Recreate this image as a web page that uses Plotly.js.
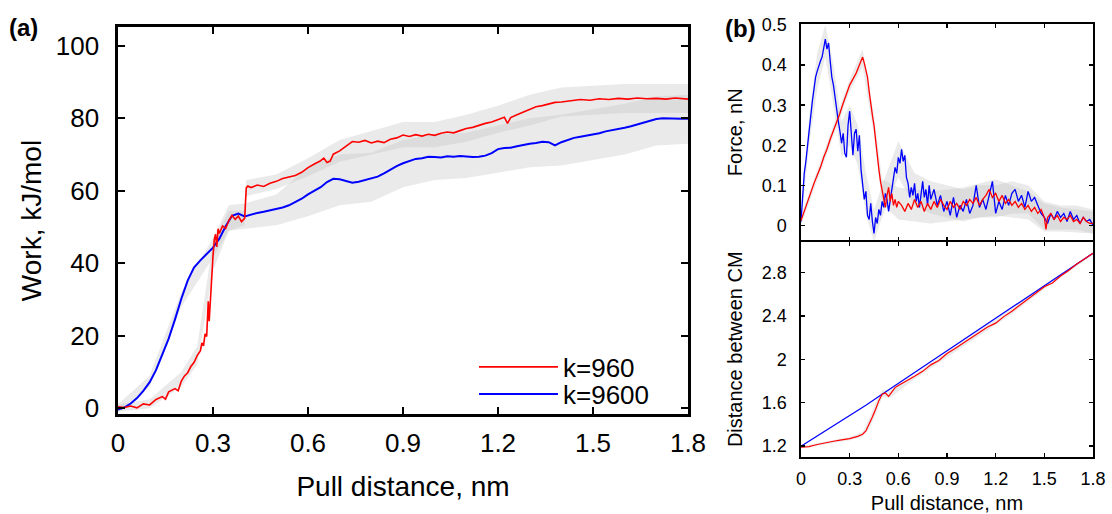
<!DOCTYPE html>
<html>
<head>
<meta charset="utf-8">
<script src="https://cdn.plot.ly/plotly-3.0.1.min.js"></script>
<style>html,body{margin:0;padding:0;background:#fff;}#chart{width:1112px;height:514px;}</style>
</head>
<body>
<div id="chart"></div>
<script>
// ---------- Panel (a): Work vs pull distance ----------
const workRedX = [0,0.02,0.04,0.06,0.08,0.10,0.12,0.14,0.15,0.16,0.18,0.19,0.20,0.21,0.22,0.23,0.24,0.25,0.26,0.265,0.27,0.275,0.28,0.285,0.288,0.292,0.296,0.30,0.304,0.308,0.312,0.316,0.32,0.33,0.34,0.35,0.36,0.37,0.38,0.39,0.40,0.405,0.41,0.42,0.44,0.46,0.48,0.50,0.52,0.54,0.56,0.58,0.60,0.62,0.64,0.65,0.66,0.67,0.68,0.70,0.72,0.74,0.76,0.78,0.80,0.82,0.84,0.86,0.88,0.90,0.92,0.94,0.96,0.98,1.00,1.02,1.04,1.06,1.08,1.10,1.12,1.14,1.16,1.18,1.20,1.22,1.23,1.24,1.26,1.28,1.30,1.32,1.34,1.36,1.38,1.40,1.43,1.46,1.49,1.52,1.55,1.58,1.61,1.64,1.67,1.70,1.73,1.76,1.80];
const workRed = [0.4,0.2,0.6,0.1,1.2,0.9,2.4,3.2,2.5,4.5,5.4,4.8,7.5,8.9,9.8,11.5,12.6,14.5,15.8,18.0,17.2,20.5,19.8,29.5,24.0,31.0,37.0,42.0,46.5,48.0,44.5,49.5,48.2,50.3,49.6,51.8,53.2,52.1,53.0,51.5,52.4,60.8,61.3,60.9,61.6,61.2,62.1,62.6,63.4,63.9,64.2,65.1,66.4,67.4,68.3,69.0,67.8,68.2,70.1,71.0,72.4,73.6,73.4,73.9,73.2,73.7,73.3,74.2,74.6,75.4,75.0,75.5,75.1,75.6,75.3,75.9,76.2,76.0,76.6,77.2,77.5,78.1,78.6,79.0,79.6,80.3,78.6,80.2,81.0,81.7,82.3,83.2,83.5,83.9,84.4,84.5,84.9,85.2,85.0,85.4,85.2,85.5,85.3,85.6,85.4,85.5,85.3,85.6,85.3];

const workBlueX = [0,0.02,0.04,0.06,0.08,0.10,0.12,0.14,0.16,0.18,0.20,0.22,0.24,0.26,0.28,0.30,0.32,0.34,0.36,0.38,0.40,0.42,0.44,0.46,0.48,0.50,0.52,0.54,0.56,0.58,0.60,0.62,0.64,0.66,0.68,0.70,0.72,0.74,0.76,0.78,0.80,0.82,0.84,0.86,0.88,0.90,0.92,0.94,0.96,0.98,1.00,1.02,1.04,1.06,1.08,1.10,1.12,1.14,1.16,1.18,1.20,1.22,1.24,1.26,1.28,1.30,1.32,1.34,1.36,1.38,1.40,1.42,1.44,1.46,1.48,1.50,1.52,1.54,1.56,1.58,1.60,1.62,1.64,1.66,1.68,1.70,1.72,1.74,1.76,1.78,1.80];
const workBlue = [-0.4,0.2,1.3,2.8,4.8,7.2,10.5,14.6,19.2,24.5,30.2,35.2,38.8,40.8,42.6,44.3,46.8,50.2,53.1,53.7,52.9,53.5,53.9,54.2,54.6,54.8,55.4,56.0,56.9,57.8,59.0,59.9,61.0,62.4,63.3,63.2,62.6,62.2,62.5,63.0,63.4,63.9,64.8,65.9,66.8,67.6,68.2,68.8,69.0,69.4,69.3,69.2,69.5,69.4,69.6,69.4,69.3,69.4,69.7,70.4,71.5,71.8,71.9,72.3,72.7,73.0,73.2,73.5,73.4,72.5,73.4,74.1,74.6,74.9,75.2,75.5,75.9,76.4,76.7,76.9,77.4,77.8,78.3,78.9,79.4,79.8,80.0,79.9,79.8,79.9,79.9];

// spread (grey error region) edges
const workRedBandX  = [0,0.1,0.2,0.25,0.3,0.35,0.4,0.405,0.5,0.6,0.7,0.8,0.9,1.0,1.1,1.2,1.3,1.4,1.5,1.6,1.7,1.8];
const workRedBandLo = [-1,0,6,12,38,49,50.5,58.5,60.5,64,68,70,72,72,73.5,76,78,80.5,81,81.5,81.5,81.5];
const workRedBandHi = [1,2.5,10,17,46,54.5,54.5,63,64.5,69,74,76.5,79,79,81,83.5,86.5,88.5,89,89.5,89.5,89.5];
const workBlueBandX  = [0,0.1,0.2,0.3,0.35,0.4,0.5,0.6,0.7,0.8,0.9,1.0,1.1,1.2,1.3,1.4,1.5,1.6,1.7,1.8];
const workBlueBandLo = [-1,6,28,41.5,49,49.5,50.5,53,56,57,61,63,63.5,65,66.5,67,68.5,70,72.5,73];
const workBlueBandHi = [1,9,32,47,56,56.5,59,66.5,70,70.5,74,75.5,76,78,80,81,82.5,84,86,86.5];

// ---------- Panel (b) top: Force ----------
const forceRedX = [0,0.02,0.04,0.06,0.08,0.10,0.12,0.14,0.16,0.18,0.20,0.22,0.24,0.26,0.28,0.30,0.32,0.34,0.36,0.37,0.38,0.39,0.40,0.41,0.42,0.43,0.44,0.45,0.46,0.47,0.48,0.49,0.50,0.51,0.52,0.53,0.54,0.55,0.56,0.57,0.58,0.59,0.60,0.62,0.64,0.66,0.68,0.70,0.72,0.74,0.76,0.78,0.80,0.82,0.84,0.86,0.88,0.90,0.92,0.94,0.96,0.98,1.00,1.02,1.04,1.06,1.08,1.10,1.12,1.14,1.16,1.18,1.20,1.22,1.24,1.26,1.28,1.30,1.32,1.34,1.36,1.38,1.40,1.42,1.44,1.46,1.48,1.50,1.51,1.52,1.54,1.56,1.58,1.60,1.62,1.64,1.66,1.68,1.70,1.72,1.74,1.76,1.78,1.80];
const forceRed = [0.012,0.035,0.06,0.085,0.105,0.125,0.145,0.17,0.19,0.215,0.235,0.255,0.28,0.305,0.33,0.35,0.365,0.38,0.40,0.41,0.42,0.405,0.39,0.37,0.335,0.30,0.275,0.25,0.21,0.175,0.14,0.11,0.085,0.07,0.045,0.075,0.095,0.06,0.08,0.05,0.065,0.045,0.06,0.05,0.035,0.055,0.04,0.065,0.045,0.06,0.035,0.055,0.04,0.06,0.045,0.065,0.05,0.04,0.06,0.045,0.055,0.04,0.06,0.05,0.065,0.055,0.07,0.05,0.065,0.075,0.09,0.07,0.08,0.06,0.075,0.055,0.065,0.05,0.06,0.045,0.055,0.04,0.05,0.035,0.045,0.03,0.04,0.02,-0.01,0.02,0.03,0.015,0.025,0.01,0.02,0.015,0.025,0.01,0.015,0.005,0.02,0.01,0.005,0.005];

const forceBlueX = [0,0.01,0.02,0.03,0.04,0.05,0.06,0.07,0.08,0.09,0.10,0.11,0.12,0.13,0.14,0.15,0.16,0.17,0.18,0.19,0.20,0.21,0.22,0.23,0.24,0.25,0.26,0.27,0.28,0.29,0.30,0.31,0.32,0.33,0.34,0.35,0.36,0.37,0.38,0.39,0.40,0.41,0.42,0.43,0.44,0.45,0.46,0.47,0.48,0.49,0.50,0.51,0.52,0.53,0.54,0.55,0.56,0.57,0.58,0.59,0.60,0.61,0.62,0.63,0.64,0.65,0.66,0.67,0.68,0.69,0.70,0.71,0.72,0.73,0.74,0.75,0.76,0.77,0.78,0.79,0.80,0.82,0.84,0.86,0.88,0.90,0.92,0.94,0.96,0.98,1.00,1.02,1.04,1.06,1.08,1.10,1.12,1.14,1.16,1.18,1.20,1.22,1.24,1.26,1.28,1.30,1.32,1.34,1.36,1.38,1.40,1.42,1.44,1.46,1.48,1.50,1.52,1.54,1.56,1.58,1.60,1.62,1.64,1.66,1.68,1.70,1.72,1.74,1.76,1.78,1.80];
const forceBlue = [0.01,0.07,0.13,0.16,0.2,0.235,0.28,0.31,0.34,0.37,0.385,0.40,0.41,0.42,0.445,0.465,0.44,0.455,0.41,0.37,0.35,0.32,0.28,0.26,0.235,0.205,0.23,0.18,0.17,0.25,0.285,0.215,0.175,0.23,0.24,0.185,0.225,0.14,0.095,0.065,0.085,0.025,0.015,0.055,0.01,-0.02,0.02,0.005,0.04,0.025,0.06,0.045,0.08,0.065,0.035,0.06,0.09,0.11,0.145,0.13,0.17,0.155,0.19,0.16,0.175,0.12,0.105,0.07,0.095,0.075,0.105,0.06,0.08,0.045,0.085,0.11,0.07,0.09,0.05,0.1,0.065,0.09,0.05,0.075,0.035,0.06,0.025,0.07,0.02,0.05,0.035,0.065,0.03,0.05,0.1,0.045,0.065,0.04,0.075,0.11,0.03,0.06,0.04,0.075,0.05,0.08,0.09,0.06,0.075,0.045,0.085,0.06,0.07,0.05,0.03,0.02,0.005,0.03,0.015,0.035,0.02,0.03,0.01,0.035,0.015,0.025,0.005,0.02,0.01,0.015,0.0];

const forceRedBandX  = [0,0.1,0.2,0.3,0.38,0.45,0.5,0.6,0.8,1.0,1.2,1.4,1.5,1.6,1.8];
const forceRedBandLo = [0.0,0.112,0.222,0.335,0.395,0.225,0.055,0.015,0.005,0.015,0.025,0.015,-0.015,-0.015,-0.02];
const forceRedBandHi = [0.025,0.138,0.248,0.365,0.44,0.275,0.115,0.095,0.085,0.095,0.115,0.085,0.055,0.045,0.035];
const forceBlueBandX  = [0,0.05,0.1,0.15,0.2,0.25,0.3,0.35,0.4,0.45,0.5,0.6,0.7,0.8,0.9,1.0,1.1,1.2,1.3,1.4,1.5,1.6,1.7,1.8];
const forceBlueBandLo = [0,0.2,0.34,0.42,0.3,0.17,0.2,0.15,0.03,-0.04,0.02,0.12,0.05,0.03,0.02,0.01,0.02,0.02,0.03,0.03,-0.01,-0.01,-0.01,-0.02];
const forceBlueBandHi = [0.03,0.27,0.43,0.5,0.4,0.26,0.3,0.25,0.13,0.04,0.1,0.21,0.13,0.11,0.1,0.09,0.1,0.1,0.11,0.1,0.06,0.05,0.05,0.04];

// ---------- Panel (b) bottom: distance between centres of mass ----------
const distBlueX = [0,0.1,0.2,0.3,0.4,0.5,0.6,0.8,1.0,1.2,1.4,1.6,1.8];
const distBlue  = [1.2,1.295,1.388,1.48,1.578,1.68,1.78,1.98,2.18,2.38,2.58,2.78,2.98];
const distRedX = [0,0.05,0.1,0.15,0.2,0.25,0.3,0.35,0.38,0.40,0.42,0.44,0.46,0.48,0.50,0.52,0.54,0.56,0.58,0.60,0.65,0.70,0.75,0.80,0.85,0.90,0.95,1.00,1.05,1.10,1.15,1.20,1.25,1.30,1.35,1.40,1.45,1.50,1.55,1.60,1.65,1.70,1.75,1.80];
const distRed  = [1.19,1.195,1.215,1.232,1.245,1.258,1.27,1.29,1.31,1.34,1.40,1.47,1.54,1.62,1.68,1.69,1.66,1.70,1.74,1.76,1.80,1.845,1.89,1.95,1.99,2.055,2.10,2.15,2.20,2.245,2.30,2.335,2.395,2.445,2.50,2.555,2.61,2.67,2.705,2.77,2.82,2.88,2.93,2.98];
const distRedBandX  = [0,0.3,0.38,0.42,0.46,0.50,0.55,0.7,1.0,1.3,1.5,1.8];
const distRedBandLo = [1.18,1.255,1.29,1.36,1.49,1.65,1.65,1.82,2.12,2.42,2.65,2.965];
const distRedBandHi = [1.2,1.285,1.33,1.45,1.6,1.72,1.72,1.86,2.17,2.47,2.69,2.99];

const tickA_X = [0,0.3,0.6,0.9,1.2,1.5,1.8];
const tickA_XText = ['0','0.3','0.6','0.9','1.2','1.5','1.8'];
const tickA_Y = [0,20,40,60,80,100];
const tickForce = [0,0.1,0.2,0.3,0.4,0.5];
const tickForceText = ['0','0.1','0.2','0.3','0.4','0.5'];
const tickDist = [1.2,1.6,2,2.4,2.8];
const tickDistText = ['1.2','1.6','2','2.4','2.8'];

const RED = '#ff0000', BLUE = '#0000ff';
const FONT = 'Liberation Sans, Arial, Helvetica, sans-serif';

function band(xs, lo, hi, xa, ya, color) {
  return [
    {x: xs, y: lo, xaxis: xa, yaxis: ya, type: 'scatter', mode: 'lines', line: {width: 0, color: color}, showlegend: false, hoverinfo: 'skip'},
    {x: xs, y: hi, xaxis: xa, yaxis: ya, type: 'scatter', mode: 'lines', line: {width: 0, color: color}, fill: 'tonexty', fillcolor: color, showlegend: false, hoverinfo: 'skip'}
  ];
}
const GREY = 'rgba(190,190,190,0.32)';

const data = [].concat(
  band(workRedBandX, workRedBandLo, workRedBandHi, 'x', 'y', GREY),
  band(workBlueBandX, workBlueBandLo, workBlueBandHi, 'x', 'y', GREY),
  band(forceRedBandX, forceRedBandLo, forceRedBandHi, 'x2', 'y2', GREY),
  band(forceBlueBandX, forceBlueBandLo, forceBlueBandHi, 'x2', 'y2', GREY),
  band(distRedBandX, distRedBandLo, distRedBandHi, 'x3', 'y3', GREY),
  [
    {x: workBlueX, y: workBlue, xaxis: 'x', yaxis: 'y', type: 'scatter', mode: 'lines', name: 'k=9600', legend: 'legend2', line: {color: BLUE, width: 2}},
    {x: workRedX, y: workRed, xaxis: 'x', yaxis: 'y', type: 'scatter', mode: 'lines', name: 'k=960', legend: 'legend', line: {color: RED, width: 1.6}},
    {x: forceBlueX, y: forceBlue, xaxis: 'x2', yaxis: 'y2', type: 'scatter', mode: 'lines', showlegend: false, line: {color: BLUE, width: 1.3}},
    {x: forceRedX, y: forceRed, xaxis: 'x2', yaxis: 'y2', type: 'scatter', mode: 'lines', showlegend: false, line: {color: RED, width: 1.3}},
    {x: distBlueX, y: distBlue, xaxis: 'x3', yaxis: 'y3', type: 'scatter', mode: 'lines', showlegend: false, line: {color: BLUE, width: 1.2}},
    {x: distRedX, y: distRed, xaxis: 'x3', yaxis: 'y3', type: 'scatter', mode: 'lines', showlegend: false, line: {color: RED, width: 1.2}}
  ]
);

const W = 1112, H = 514;
const px = v => v / W, py = v => 1 - v / H;

const axBase = {showline: true, linecolor: '#000', mirror: 'ticks', ticks: 'inside', tickcolor: '#000', showgrid: false, zeroline: false, fixedrange: true};
const legBase = {xanchor: 'left', yanchor: 'middle', bgcolor: 'rgba(0,0,0,0)', font: {size: 26, family: FONT}, itemwidth: 79};

const layout = {
  width: W, height: H,
  margin: {l: 0, r: 0, t: 0, b: 0},
  paper_bgcolor: '#fff', plot_bgcolor: '#fff',
  font: {family: FONT, color: '#000'},
  showlegend: true,
  legend: Object.assign({}, legBase, {x: px(474), y: py(367)}),
  legend2: Object.assign({}, legBase, {x: px(474), y: py(394)}),
  xaxis: Object.assign({}, axBase, {domain: [px(118), px(688)], anchor: 'y', range: [0, 1.8], tickvals: tickA_X, ticktext: tickA_XText, linewidth: 2.6, tickwidth: 2.2, ticklen: 7, tickfont: {size: 26}, ticklabelstandoff: 4, title: {text: 'Pull distance, nm', font: {size: 28}, standoff: 20}}),
  yaxis: Object.assign({}, axBase, {domain: [py(414), py(27)], anchor: 'x', range: [-1.6, 105.2], tickvals: tickA_Y, linewidth: 2.6, tickwidth: 2.2, ticklen: 7, tickfont: {size: 26}, ticklabelstandoff: 11, title: {text: 'Work, kJ/mol', font: {size: 28}, standoff: 6}}),
  xaxis2: Object.assign({}, axBase, {domain: [px(801), px(1093)], anchor: 'y2', range: [0, 1.8], tickvals: tickA_X, showticklabels: false, linewidth: 1.6, tickwidth: 1.4, ticklen: 4}),
  yaxis2: Object.assign({}, axBase, {domain: [py(240.5), py(24)], anchor: 'x2', range: [-0.0375, 0.5025], tickvals: tickForce, ticktext: tickForceText, linewidth: 1.6, tickwidth: 1.4, ticklen: 4, tickfont: {size: 18}, ticklabelstandoff: 9, title: {text: 'Force, nN', font: {size: 20}, standoff: 14}}),
  xaxis3: Object.assign({}, axBase, {domain: [px(801), px(1093)], anchor: 'y3', range: [0, 1.8], tickvals: tickA_X, ticktext: tickA_XText, linewidth: 1.6, tickwidth: 1.4, ticklen: 4, tickfont: {size: 18}, ticklabelstandoff: 5, title: {text: 'Pull distance, nm', font: {size: 20}, standoff: 20}}),
  yaxis3: Object.assign({}, axBase, {domain: [py(457), py(241.5)], anchor: 'x3', range: [1.1, 3.088], tickvals: tickDist, ticktext: tickDistText, linewidth: 1.6, tickwidth: 1.4, ticklen: 4, tickfont: {size: 18}, ticklabelstandoff: 9, title: {text: 'Distance between CM', font: {size: 20}, standoff: 14}}),
  annotations: [
    {text: '<b>(a)</b>', xref: 'paper', yref: 'paper', x: px(7), y: py(27), xanchor: 'left', yanchor: 'middle', showarrow: false, font: {size: 24}},
    {text: '<b>(b)</b>', xref: 'paper', yref: 'paper', x: px(723), y: py(28), xanchor: 'left', yanchor: 'middle', showarrow: false, font: {size: 24}}
  ]
};

Plotly.newPlot('chart', data, layout, {displayModeBar: false, staticPlot: true});
</script>
</body>
</html>
